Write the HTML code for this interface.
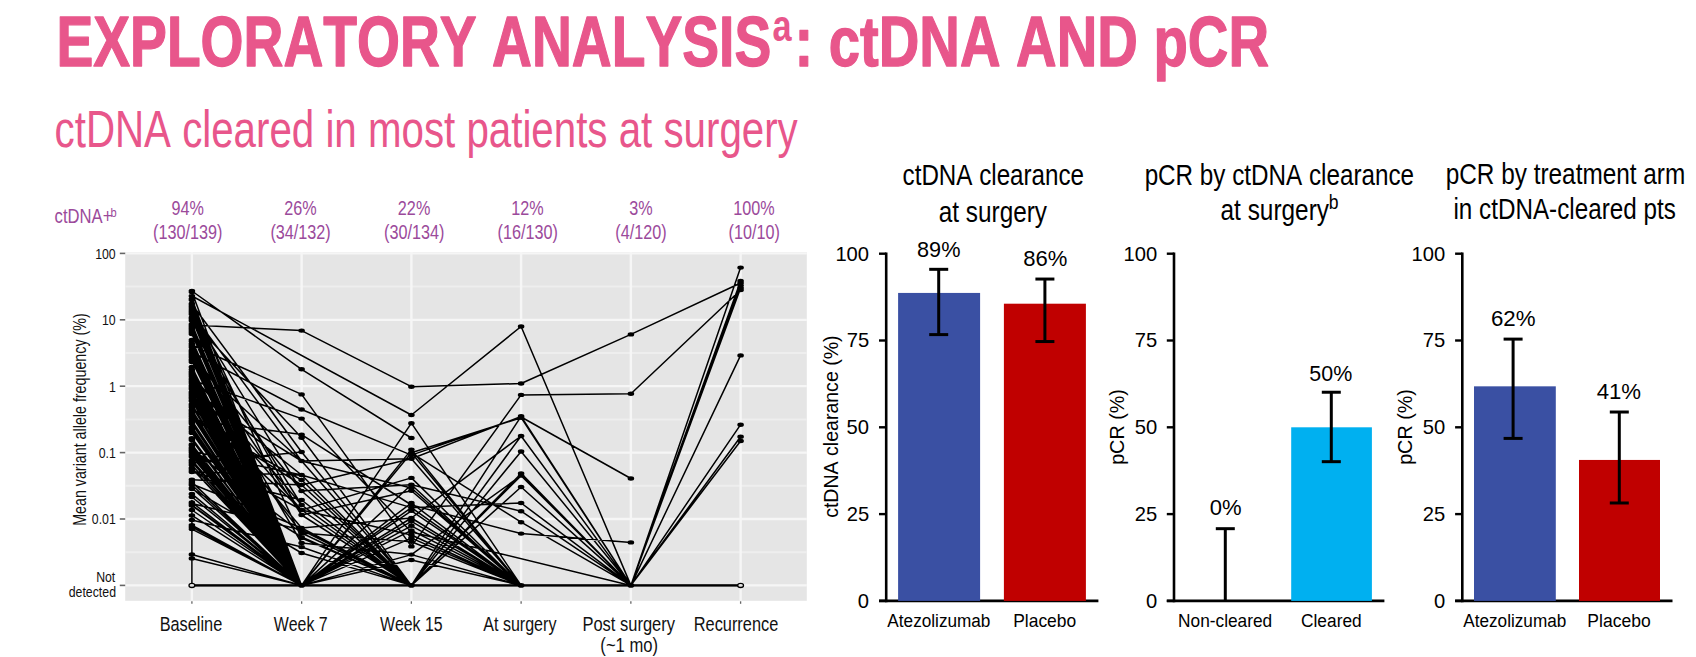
<!DOCTYPE html>
<html><head><meta charset="utf-8">
<style>
html,body{margin:0;padding:0;background:#fff;width:1696px;height:657px;overflow:hidden}
svg{display:block}
text{font-family:"Liberation Sans",sans-serif;font-kerning:none;white-space:pre}
</style></head><body>
<svg width="1696" height="657" viewBox="0 0 1696 657">
<text transform="translate(56.41,66.00) scale(0.7935,1)" font-size="69.6" font-weight="bold" fill="#E8568B" stroke="#E8568B" stroke-width="1.3" stroke-linejoin="round">EXPLORATORY ANALYSIS</text>
<text transform="translate(772.59,41.10) scale(0.7800,1)" font-size="44" font-weight="bold" fill="#E8568B" >a</text>
<text transform="translate(794.39,65.80) scale(0.8078,1)" font-size="69.6" font-weight="bold" fill="#E8568B" stroke="#E8568B" stroke-width="1.3" stroke-linejoin="round">: ctDNA AND pCR</text>
<text transform="translate(54.59,147.20) scale(0.7747,1)" font-size="52" font-weight="normal" fill="#E8568B" >ctDNA cleared in most patients at surgery</text>
<rect x="125.20" y="252.00" width="681.60" height="348.80" fill="#E5E5E5"/>
<line x1="125.20" y1="552.20" x2="806.80" y2="552.20" stroke="#EEEEEE" stroke-width="2.0" />
<line x1="125.20" y1="485.80" x2="806.80" y2="485.80" stroke="#EEEEEE" stroke-width="2.0" />
<line x1="125.20" y1="419.40" x2="806.80" y2="419.40" stroke="#EEEEEE" stroke-width="2.0" />
<line x1="125.20" y1="353.00" x2="806.80" y2="353.00" stroke="#EEEEEE" stroke-width="2.0" />
<line x1="125.20" y1="286.60" x2="806.80" y2="286.60" stroke="#EEEEEE" stroke-width="2.0" />
<line x1="125.20" y1="585.40" x2="806.80" y2="585.40" stroke="#F6F6F6" stroke-width="2.3" />
<line x1="125.20" y1="519.00" x2="806.80" y2="519.00" stroke="#F6F6F6" stroke-width="2.3" />
<line x1="125.20" y1="452.60" x2="806.80" y2="452.60" stroke="#F6F6F6" stroke-width="2.3" />
<line x1="125.20" y1="386.20" x2="806.80" y2="386.20" stroke="#F6F6F6" stroke-width="2.3" />
<line x1="125.20" y1="319.80" x2="806.80" y2="319.80" stroke="#F6F6F6" stroke-width="2.3" />
<line x1="125.20" y1="253.40" x2="806.80" y2="253.40" stroke="#F6F6F6" stroke-width="2.3" />
<line x1="191.90" y1="252.00" x2="191.90" y2="600.80" stroke="#F6F6F6" stroke-width="2.4" />
<line x1="301.64" y1="252.00" x2="301.64" y2="600.80" stroke="#F6F6F6" stroke-width="2.4" />
<line x1="411.38" y1="252.00" x2="411.38" y2="600.80" stroke="#F6F6F6" stroke-width="2.4" />
<line x1="521.12" y1="252.00" x2="521.12" y2="600.80" stroke="#F6F6F6" stroke-width="2.4" />
<line x1="630.86" y1="252.00" x2="630.86" y2="600.80" stroke="#F6F6F6" stroke-width="2.4" />
<line x1="740.60" y1="252.00" x2="740.60" y2="600.80" stroke="#F6F6F6" stroke-width="2.4" />
<line x1="119.80" y1="585.40" x2="125.20" y2="585.40" stroke="#666666" stroke-width="1.6" />
<line x1="119.80" y1="519.00" x2="125.20" y2="519.00" stroke="#666666" stroke-width="1.6" />
<line x1="119.80" y1="452.60" x2="125.20" y2="452.60" stroke="#666666" stroke-width="1.6" />
<line x1="119.80" y1="386.20" x2="125.20" y2="386.20" stroke="#666666" stroke-width="1.6" />
<line x1="119.80" y1="319.80" x2="125.20" y2="319.80" stroke="#666666" stroke-width="1.6" />
<line x1="119.80" y1="253.40" x2="125.20" y2="253.40" stroke="#666666" stroke-width="1.6" />
<line x1="191.90" y1="601.30" x2="191.90" y2="603.80" stroke="#666" stroke-width="1.3" />
<line x1="301.64" y1="601.30" x2="301.64" y2="603.80" stroke="#666" stroke-width="1.3" />
<line x1="411.38" y1="601.30" x2="411.38" y2="603.80" stroke="#666" stroke-width="1.3" />
<line x1="521.12" y1="601.30" x2="521.12" y2="603.80" stroke="#666" stroke-width="1.3" />
<line x1="630.86" y1="601.30" x2="630.86" y2="603.80" stroke="#666" stroke-width="1.3" />
<line x1="740.60" y1="601.30" x2="740.60" y2="603.80" stroke="#666" stroke-width="1.3" />
<path d="M191.9 291.0L301.6 369.3M301.6 369.3L411.4 438.0M191.9 325.0L301.6 330.6M301.6 330.6L411.4 386.7M411.4 386.7L521.1 383.5M521.1 383.5L630.9 334.4M630.9 334.4L740.6 283.0M191.9 296.0L411.4 415.0M411.4 415.0L521.1 326.5M521.1 326.5L630.9 585.4M191.9 345.0L301.6 394.4M301.6 394.4L411.4 546.4M411.4 546.4L521.1 394.9M521.1 394.9L630.9 393.7M630.9 393.7L740.6 290.0M191.9 352.0L301.6 409.5M301.6 409.5L411.4 455.1M411.4 455.1L521.1 417.0M521.1 417.0L630.9 478.5M191.9 380.0L301.6 418.6M301.6 418.6L411.4 532.0M411.4 532.0L630.9 585.4M191.9 420.0L301.6 434.6M301.6 434.6L411.4 505.0M411.4 505.0L521.1 533.6M521.1 533.6L630.9 542.4M191.9 330.0L301.6 585.4M301.6 585.4L411.4 452.8M411.4 452.8L521.1 417.7M521.1 417.7L630.9 585.4M191.9 362.0L301.6 461.0M301.6 461.0L411.4 458.8M411.4 458.8L521.1 416.5M521.1 416.5L630.9 585.4M191.9 318.0L301.6 585.4M301.6 585.4L411.4 423.2M411.4 423.2L521.1 585.4M521.1 585.4L630.9 585.4M191.9 340.0L301.6 585.4M301.6 585.4L411.4 585.4M411.4 585.4L521.1 436.0M521.1 436.0L630.9 585.4M191.9 375.0L301.6 505.0M301.6 505.0L411.4 585.4M411.4 585.4L521.1 475.6M521.1 475.6L630.9 585.4M191.9 300.0L301.6 585.4M301.6 585.4L411.4 585.4M411.4 585.4L521.1 451.5M521.1 451.5L630.9 585.4M191.9 410.0L301.6 585.4M301.6 585.4L411.4 585.4M411.4 585.4L521.1 585.4M521.1 585.4L630.9 585.4M630.9 585.4L740.6 267.6M191.9 440.0L301.6 585.4M301.6 585.4L411.4 585.4M411.4 585.4L521.1 585.4M521.1 585.4L630.9 585.4M630.9 585.4L740.6 281.0M191.9 395.0L301.6 585.4M301.6 585.4L411.4 585.4M411.4 585.4L521.1 585.4M521.1 585.4L630.9 585.4M630.9 585.4L740.6 285.5M191.9 462.0L301.6 585.4M301.6 585.4L411.4 585.4M411.4 585.4L521.1 585.4M521.1 585.4L630.9 585.4M630.9 585.4L740.6 288.0M191.9 360.0L301.6 585.4M301.6 585.4L411.4 585.4M411.4 585.4L521.1 585.4M521.1 585.4L630.9 585.4M630.9 585.4L740.6 355.4M191.9 372.0L301.6 585.4M301.6 585.4L411.4 585.4M411.4 585.4L521.1 585.4M521.1 585.4L630.9 585.4M630.9 585.4L740.6 424.7M191.9 468.0L301.6 585.4M301.6 585.4L411.4 585.4M411.4 585.4L521.1 585.4M521.1 585.4L630.9 585.4M630.9 585.4L740.6 436.8M191.9 505.0L301.6 585.4M301.6 585.4L411.4 585.4M411.4 585.4L521.1 585.4M521.1 585.4L630.9 585.4M630.9 585.4L740.6 441.0M191.9 304.2L301.6 452.0M301.6 452.0L411.4 585.4M411.4 585.4L521.1 416.3M521.1 416.3L630.9 585.4M191.9 444.8L301.6 585.4M301.6 585.4L411.4 518.0M411.4 518.0L521.1 436.0M521.1 436.0L630.9 585.4M191.9 303.7L301.6 538.0M301.6 538.0L411.4 585.4M411.4 585.4L521.1 451.5M521.1 451.5L630.9 585.4M191.9 451.2L301.6 475.0M301.6 475.0L411.4 585.4M411.4 585.4L521.1 473.4M521.1 473.4L630.9 585.4M191.9 389.0L301.6 585.4M301.6 585.4L411.4 554.6M411.4 554.6L521.1 475.6M521.1 475.6L630.9 585.4M191.9 299.8L301.6 585.4M301.6 585.4L411.4 585.4M411.4 585.4L521.1 487.0M521.1 487.0L630.9 585.4M191.9 387.9L301.6 475.0M301.6 475.0L411.4 507.6M411.4 507.6L521.1 503.0M521.1 503.0L630.9 585.4M191.9 354.6L301.6 491.0M301.6 491.0L411.4 484.8M411.4 484.8L521.1 511.2M521.1 511.2L630.9 585.4M191.9 396.0L301.6 585.4M301.6 585.4L411.4 452.8M411.4 452.8L521.1 522.2M521.1 522.2L630.9 585.4M191.9 386.6L301.6 585.4M301.6 585.4L411.4 423.2M411.4 423.2L521.1 585.4M521.1 585.4L630.9 585.4M191.9 374.9L301.6 585.4M301.6 585.4L411.4 449.6M411.4 449.6L521.1 585.4M521.1 585.4L630.9 585.4M191.9 356.4L301.6 585.4M301.6 585.4L411.4 452.8M411.4 452.8L521.1 585.4M521.1 585.4L630.9 585.4M191.9 416.4L301.6 485.0M301.6 485.0L411.4 458.8M411.4 458.8L521.1 585.4M521.1 585.4L630.9 585.4M191.9 385.5L301.6 510.0M301.6 510.0L411.4 477.9M411.4 477.9L521.1 585.4M521.1 585.4L630.9 585.4M191.9 421.8L301.6 585.4M301.6 585.4L411.4 484.8M411.4 484.8L521.1 585.4M521.1 585.4L630.9 585.4M191.9 313.0L301.6 461.0M301.6 461.0L411.4 488.0M411.4 488.0L521.1 585.4M521.1 585.4L630.9 585.4M191.9 319.1L301.6 515.0M301.6 515.0L411.4 490.7M411.4 490.7L521.1 585.4M521.1 585.4L630.9 585.4M191.9 299.0L301.6 585.4M301.6 585.4L411.4 503.0M411.4 503.0L521.1 585.4M521.1 585.4L630.9 585.4M191.9 428.1L301.6 585.4M301.6 585.4L411.4 507.6M411.4 507.6L521.1 585.4M521.1 585.4L630.9 585.4M191.9 447.8L301.6 585.4M301.6 585.4L411.4 510.8M411.4 510.8L521.1 585.4M521.1 585.4L630.9 585.4M191.9 397.8L301.6 528.0M301.6 528.0L411.4 518.0M411.4 518.0L521.1 585.4M521.1 585.4L630.9 585.4M191.9 373.2L301.6 585.4M301.6 585.4L411.4 521.3M411.4 521.3L521.1 585.4M521.1 585.4L630.9 585.4M191.9 460.2L301.6 585.4M301.6 585.4L411.4 525.8M411.4 525.8L521.1 585.4M521.1 585.4L630.9 585.4M191.9 410.2L301.6 585.4M301.6 585.4L411.4 530.4M411.4 530.4L521.1 585.4M521.1 585.4L630.9 585.4M191.9 407.2L301.6 510.0M301.6 510.0L411.4 535.0M411.4 535.0L521.1 585.4M521.1 585.4L630.9 585.4M191.9 438.3L301.6 585.4M301.6 585.4L411.4 538.1M411.4 538.1L521.1 585.4M521.1 585.4L630.9 585.4M191.9 449.9L301.6 533.0M301.6 533.0L411.4 541.8M411.4 541.8L521.1 585.4M521.1 585.4L630.9 585.4M191.9 355.3L301.6 543.0M301.6 543.0L411.4 554.6M411.4 554.6L521.1 585.4M521.1 585.4L630.9 585.4M191.9 379.9L301.6 585.4M301.6 585.4L411.4 560.0M411.4 560.0L521.1 585.4M521.1 585.4L630.9 585.4M191.9 320.5L301.6 437.8M301.6 437.8L411.4 585.4M411.4 585.4L521.1 585.4M521.1 585.4L630.9 585.4M191.9 463.0L301.6 452.0M301.6 452.0L411.4 585.4M411.4 585.4L521.1 585.4M521.1 585.4L630.9 585.4M191.9 393.4L301.6 461.0M301.6 461.0L411.4 585.4M411.4 585.4L521.1 585.4M521.1 585.4L630.9 585.4M191.9 471.8L301.6 475.0M301.6 475.0L411.4 585.4M411.4 585.4L521.1 585.4M521.1 585.4L630.9 585.4M191.9 418.4L301.6 480.0M301.6 480.0L411.4 585.4M411.4 585.4L521.1 585.4M521.1 585.4L630.9 585.4M191.9 479.7L301.6 485.0M301.6 485.0L411.4 585.4M411.4 585.4L521.1 585.4M521.1 585.4L630.9 585.4M191.9 313.3L301.6 491.0M301.6 491.0L411.4 585.4M411.4 585.4L521.1 585.4M521.1 585.4L630.9 585.4M191.9 472.1L301.6 500.0M301.6 500.0L411.4 585.4M411.4 585.4L521.1 585.4M521.1 585.4L630.9 585.4M191.9 328.9L301.6 505.0M301.6 505.0L411.4 585.4M411.4 585.4L521.1 585.4M521.1 585.4L630.9 585.4M191.9 451.0L301.6 510.0M301.6 510.0L411.4 585.4M411.4 585.4L521.1 585.4M521.1 585.4L630.9 585.4M191.9 350.3L301.6 515.0M301.6 515.0L411.4 585.4M411.4 585.4L521.1 585.4M521.1 585.4L630.9 585.4M191.9 484.0L301.6 528.0M301.6 528.0L411.4 585.4M411.4 585.4L521.1 585.4M521.1 585.4L630.9 585.4M191.9 388.9L301.6 533.0M301.6 533.0L411.4 585.4M411.4 585.4L521.1 585.4M521.1 585.4L630.9 585.4M191.9 450.0L301.6 585.4M301.6 585.4L411.4 585.4M411.4 585.4L521.1 585.4M521.1 585.4L630.9 585.4M191.9 404.6L301.6 585.4M301.6 585.4L411.4 585.4M411.4 585.4L521.1 585.4M521.1 585.4L630.9 585.4M191.9 357.3L301.6 585.4M301.6 585.4L411.4 585.4M411.4 585.4L521.1 585.4M521.1 585.4L630.9 585.4M191.9 332.6L301.6 585.4M301.6 585.4L411.4 585.4M411.4 585.4L521.1 585.4M521.1 585.4L630.9 585.4M191.9 306.3L301.6 585.4M301.6 585.4L411.4 585.4M411.4 585.4L521.1 585.4M521.1 585.4L630.9 585.4M191.9 318.8L301.6 585.4M301.6 585.4L411.4 585.4M411.4 585.4L521.1 585.4M521.1 585.4L630.9 585.4M191.9 400.9L301.6 585.4M301.6 585.4L411.4 585.4M411.4 585.4L521.1 585.4M521.1 585.4L630.9 585.4M191.9 292.1L301.6 585.4M301.6 585.4L411.4 585.4M411.4 585.4L521.1 585.4M521.1 585.4L630.9 585.4M191.9 427.0L301.6 585.4M301.6 585.4L411.4 585.4M411.4 585.4L521.1 585.4M521.1 585.4L630.9 585.4M191.9 324.2L301.6 585.4M301.6 585.4L411.4 585.4M411.4 585.4L521.1 585.4M521.1 585.4L630.9 585.4M191.9 341.2L301.6 585.4M301.6 585.4L411.4 585.4M411.4 585.4L521.1 585.4M521.1 585.4L630.9 585.4M191.9 317.8L301.6 585.4M301.6 585.4L411.4 585.4M411.4 585.4L521.1 585.4M521.1 585.4L630.9 585.4M191.9 381.8L301.6 585.4M301.6 585.4L411.4 585.4M411.4 585.4L521.1 585.4M521.1 585.4L630.9 585.4M191.9 393.4L301.6 585.4M301.6 585.4L411.4 585.4M411.4 585.4L521.1 585.4M521.1 585.4L630.9 585.4M191.9 347.2L301.6 585.4M301.6 585.4L411.4 585.4M411.4 585.4L521.1 585.4M521.1 585.4L630.9 585.4M191.9 314.2L301.6 585.4M301.6 585.4L411.4 585.4M411.4 585.4L521.1 585.4M521.1 585.4L630.9 585.4M191.9 431.2L301.6 585.4M301.6 585.4L411.4 585.4M411.4 585.4L521.1 585.4M521.1 585.4L630.9 585.4M191.9 444.7L301.6 585.4M301.6 585.4L411.4 585.4M411.4 585.4L521.1 585.4M521.1 585.4L630.9 585.4M191.9 400.4L301.6 585.4M301.6 585.4L411.4 585.4M411.4 585.4L521.1 585.4M521.1 585.4L630.9 585.4M191.9 413.3L301.6 585.4M301.6 585.4L411.4 585.4M411.4 585.4L521.1 585.4M521.1 585.4L630.9 585.4M191.9 369.5L301.6 585.4M301.6 585.4L411.4 585.4M411.4 585.4L521.1 585.4M521.1 585.4L630.9 585.4M191.9 432.9L301.6 585.4M301.6 585.4L411.4 585.4M411.4 585.4L521.1 585.4M521.1 585.4L630.9 585.4M191.9 444.9L301.6 585.4M301.6 585.4L411.4 585.4M411.4 585.4L521.1 585.4M521.1 585.4L630.9 585.4M191.9 404.3L301.6 585.4M301.6 585.4L411.4 585.4M411.4 585.4L521.1 585.4M521.1 585.4L630.9 585.4M191.9 385.6L301.6 585.4M301.6 585.4L411.4 585.4M411.4 585.4L521.1 585.4M521.1 585.4L630.9 585.4M191.9 360.1L301.6 585.4M301.6 585.4L411.4 585.4M411.4 585.4L521.1 585.4M521.1 585.4L630.9 585.4M191.9 359.5L301.6 585.4M301.6 585.4L411.4 585.4M411.4 585.4L521.1 585.4M521.1 585.4L630.9 585.4M191.9 373.4L301.6 585.4M301.6 585.4L411.4 585.4M411.4 585.4L521.1 585.4M521.1 585.4L630.9 585.4M191.9 360.5L301.6 585.4M301.6 585.4L411.4 585.4M411.4 585.4L521.1 585.4M521.1 585.4L630.9 585.4M191.9 325.7L301.6 585.4M301.6 585.4L411.4 585.4M411.4 585.4L521.1 585.4M521.1 585.4L630.9 585.4M191.9 449.7L301.6 585.4M301.6 585.4L411.4 585.4M411.4 585.4L521.1 585.4M521.1 585.4L630.9 585.4M191.9 367.0L301.6 585.4M301.6 585.4L411.4 585.4M411.4 585.4L521.1 585.4M521.1 585.4L630.9 585.4M191.9 311.3L301.6 585.4M301.6 585.4L411.4 585.4M411.4 585.4L521.1 585.4M521.1 585.4L630.9 585.4M191.9 392.0L301.6 585.4M301.6 585.4L411.4 585.4M411.4 585.4L521.1 585.4M521.1 585.4L630.9 585.4M191.9 310.0L301.6 585.4M301.6 585.4L411.4 585.4M411.4 585.4L521.1 585.4M521.1 585.4L630.9 585.4M191.9 386.8L301.6 585.4M301.6 585.4L411.4 585.4M411.4 585.4L521.1 585.4M521.1 585.4L630.9 585.4M191.9 382.1L301.6 585.4M301.6 585.4L411.4 585.4M411.4 585.4L521.1 585.4M521.1 585.4L630.9 585.4M191.9 444.5L301.6 585.4M301.6 585.4L411.4 585.4M411.4 585.4L521.1 585.4M521.1 585.4L630.9 585.4M191.9 394.0L301.6 585.4M301.6 585.4L411.4 585.4M411.4 585.4L521.1 585.4M521.1 585.4L630.9 585.4M191.9 303.9L301.6 585.4M301.6 585.4L411.4 585.4M411.4 585.4L521.1 585.4M521.1 585.4L630.9 585.4M191.9 328.7L301.6 585.4M301.6 585.4L411.4 585.4M411.4 585.4L521.1 585.4M521.1 585.4L630.9 585.4M191.9 356.6L301.6 585.4M301.6 585.4L411.4 585.4M411.4 585.4L521.1 585.4M521.1 585.4L630.9 585.4M191.9 397.2L301.6 585.4M301.6 585.4L411.4 585.4M411.4 585.4L521.1 585.4M521.1 585.4L630.9 585.4M191.9 445.5L301.6 585.4M301.6 585.4L411.4 585.4M411.4 585.4L521.1 585.4M521.1 585.4L630.9 585.4M191.9 392.3L301.6 585.4M301.6 585.4L411.4 585.4M411.4 585.4L521.1 585.4M521.1 585.4L630.9 585.4M191.9 372.3L301.6 585.4M301.6 585.4L411.4 585.4M411.4 585.4L521.1 585.4M521.1 585.4L630.9 585.4M191.9 312.3L301.6 585.4M301.6 585.4L411.4 585.4M411.4 585.4L521.1 585.4M521.1 585.4L630.9 585.4M191.9 374.5L301.6 585.4M301.6 585.4L411.4 585.4M411.4 585.4L521.1 585.4M521.1 585.4L630.9 585.4M191.9 448.7L301.6 585.4M301.6 585.4L411.4 585.4M411.4 585.4L521.1 585.4M521.1 585.4L630.9 585.4M191.9 373.3L301.6 585.4M301.6 585.4L411.4 585.4M411.4 585.4L521.1 585.4M521.1 585.4L630.9 585.4M191.9 346.1L301.6 585.4M301.6 585.4L411.4 585.4M411.4 585.4L521.1 585.4M521.1 585.4L630.9 585.4M191.9 317.5L301.6 585.4M301.6 585.4L411.4 585.4M411.4 585.4L521.1 585.4M521.1 585.4L630.9 585.4M191.9 414.8L301.6 585.4M301.6 585.4L411.4 585.4M411.4 585.4L521.1 585.4M521.1 585.4L630.9 585.4M191.9 413.4L301.6 585.4M301.6 585.4L411.4 585.4M411.4 585.4L521.1 585.4M521.1 585.4L630.9 585.4M191.9 373.0L301.6 585.4M301.6 585.4L411.4 585.4M411.4 585.4L521.1 585.4M521.1 585.4L630.9 585.4M191.9 406.0L301.6 585.4M301.6 585.4L411.4 585.4M411.4 585.4L521.1 585.4M521.1 585.4L630.9 585.4M191.9 378.9L301.6 585.4M301.6 585.4L411.4 585.4M411.4 585.4L521.1 585.4M521.1 585.4L630.9 585.4M191.9 328.2L301.6 585.4M301.6 585.4L411.4 585.4M411.4 585.4L521.1 585.4M521.1 585.4L630.9 585.4M191.9 444.9L301.6 585.4M301.6 585.4L411.4 585.4M411.4 585.4L521.1 585.4M521.1 585.4L630.9 585.4M191.9 354.3L301.6 585.4M301.6 585.4L411.4 585.4M411.4 585.4L521.1 585.4M521.1 585.4L630.9 585.4M191.9 405.7L301.6 585.4M301.6 585.4L411.4 585.4M411.4 585.4L521.1 585.4M521.1 585.4L630.9 585.4M191.9 439.3L301.6 585.4M301.6 585.4L411.4 585.4M411.4 585.4L521.1 585.4M521.1 585.4L630.9 585.4M191.9 416.0L301.6 585.4M301.6 585.4L411.4 585.4M411.4 585.4L521.1 585.4M521.1 585.4L630.9 585.4M191.9 343.8L301.6 585.4M301.6 585.4L411.4 585.4M411.4 585.4L521.1 585.4M521.1 585.4L630.9 585.4M191.9 398.5L301.6 585.4M301.6 585.4L411.4 585.4M411.4 585.4L521.1 585.4M521.1 585.4L630.9 585.4M191.9 307.9L301.6 585.4M301.6 585.4L411.4 585.4M411.4 585.4L521.1 585.4M521.1 585.4L630.9 585.4M191.9 429.1L301.6 585.4M301.6 585.4L411.4 585.4M411.4 585.4L521.1 585.4M521.1 585.4L630.9 585.4M191.9 379.2L301.6 585.4M301.6 585.4L411.4 585.4M411.4 585.4L521.1 585.4M521.1 585.4L630.9 585.4M191.9 438.5L301.6 585.4M301.6 585.4L411.4 585.4M411.4 585.4L521.1 585.4M521.1 585.4L630.9 585.4M191.9 353.3L301.6 585.4M301.6 585.4L411.4 585.4M411.4 585.4L521.1 585.4M521.1 585.4L630.9 585.4M191.9 331.2L301.6 585.4M301.6 585.4L411.4 585.4M411.4 585.4L521.1 585.4M521.1 585.4L630.9 585.4M191.9 382.9L301.6 585.4M301.6 585.4L411.4 585.4M411.4 585.4L521.1 585.4M521.1 585.4L630.9 585.4M191.9 376.8L301.6 585.4M301.6 585.4L411.4 585.4M411.4 585.4L521.1 585.4M521.1 585.4L630.9 585.4M191.9 397.5L301.6 585.4M301.6 585.4L411.4 585.4M411.4 585.4L521.1 585.4M521.1 585.4L630.9 585.4M191.9 394.0L301.6 585.4M301.6 585.4L411.4 585.4M411.4 585.4L521.1 585.4M521.1 585.4L630.9 585.4M191.9 420.6L301.6 585.4M301.6 585.4L411.4 585.4M411.4 585.4L521.1 585.4M521.1 585.4L630.9 585.4M191.9 416.1L301.6 585.4M301.6 585.4L411.4 585.4M411.4 585.4L521.1 585.4M521.1 585.4L630.9 585.4M191.9 326.5L301.6 585.4M301.6 585.4L411.4 585.4M411.4 585.4L521.1 585.4M521.1 585.4L630.9 585.4M191.9 334.0L301.6 585.4M301.6 585.4L411.4 585.4M411.4 585.4L521.1 585.4M521.1 585.4L630.9 585.4M191.9 360.6L301.6 585.4M301.6 585.4L411.4 585.4M411.4 585.4L521.1 585.4M521.1 585.4L630.9 585.4M191.9 422.8L301.6 585.4M301.6 585.4L411.4 585.4M411.4 585.4L521.1 585.4M521.1 585.4L630.9 585.4M191.9 327.3L301.6 585.4M301.6 585.4L411.4 585.4M411.4 585.4L521.1 585.4M521.1 585.4L630.9 585.4M191.9 375.2L301.6 585.4M301.6 585.4L411.4 585.4M411.4 585.4L521.1 585.4M521.1 585.4L630.9 585.4M191.9 411.9L301.6 585.4M301.6 585.4L411.4 585.4M411.4 585.4L521.1 585.4M521.1 585.4L630.9 585.4M191.9 450.5L301.6 585.4M301.6 585.4L411.4 585.4M411.4 585.4L521.1 585.4M521.1 585.4L630.9 585.4M191.9 420.9L301.6 585.4M301.6 585.4L411.4 585.4M411.4 585.4L521.1 585.4M521.1 585.4L630.9 585.4M191.9 372.0L301.6 585.4M301.6 585.4L411.4 585.4M411.4 585.4L521.1 585.4M521.1 585.4L630.9 585.4M191.9 326.2L301.6 585.4M301.6 585.4L411.4 585.4M411.4 585.4L521.1 585.4M521.1 585.4L630.9 585.4M191.9 392.7L301.6 585.4M301.6 585.4L411.4 585.4M411.4 585.4L521.1 585.4M521.1 585.4L630.9 585.4M191.9 351.4L301.6 585.4M301.6 585.4L411.4 585.4M411.4 585.4L521.1 585.4M521.1 585.4L630.9 585.4M191.9 423.6L301.6 585.4M301.6 585.4L411.4 585.4M411.4 585.4L521.1 585.4M521.1 585.4L630.9 585.4M191.9 410.8L301.6 585.4M301.6 585.4L411.4 585.4M411.4 585.4L521.1 585.4M521.1 585.4L630.9 585.4M191.9 352.3L301.6 585.4M301.6 585.4L411.4 585.4M411.4 585.4L521.1 585.4M521.1 585.4L630.9 585.4M191.9 448.3L301.6 585.4M301.6 585.4L411.4 585.4M411.4 585.4L521.1 585.4M521.1 585.4L630.9 585.4M191.9 305.9L301.6 585.4M301.6 585.4L411.4 585.4M411.4 585.4L521.1 585.4M521.1 585.4L630.9 585.4M191.9 309.9L301.6 585.4M301.6 585.4L411.4 585.4M411.4 585.4L521.1 585.4M521.1 585.4L630.9 585.4M191.9 371.6L301.6 585.4M301.6 585.4L411.4 585.4M411.4 585.4L521.1 585.4M521.1 585.4L630.9 585.4M191.9 350.4L301.6 585.4M301.6 585.4L411.4 585.4M411.4 585.4L521.1 585.4M521.1 585.4L630.9 585.4M191.9 373.6L301.6 585.4M301.6 585.4L411.4 585.4M411.4 585.4L521.1 585.4M521.1 585.4L630.9 585.4M191.9 449.8L301.6 585.4M301.6 585.4L411.4 585.4M411.4 585.4L521.1 585.4M521.1 585.4L630.9 585.4M191.9 503.6L301.6 530.0M301.6 530.0L411.4 585.4M411.4 585.4L521.1 585.4M521.1 585.4L630.9 585.4M191.9 470.1L301.6 537.0M301.6 537.0L411.4 585.4M411.4 585.4L521.1 585.4M521.1 585.4L630.9 585.4M191.9 520.0L301.6 547.0M301.6 547.0L411.4 585.4M411.4 585.4L521.1 585.4M521.1 585.4L630.9 585.4M191.9 488.9L301.6 553.0M301.6 553.0L411.4 585.4M411.4 585.4L521.1 585.4M521.1 585.4L630.9 585.4M191.9 452.8L301.6 585.4M301.6 585.4L411.4 585.4M411.4 585.4L521.1 585.4M521.1 585.4L630.9 585.4M191.9 456.7L301.6 585.4M301.6 585.4L411.4 585.4M411.4 585.4L521.1 585.4M521.1 585.4L630.9 585.4M191.9 460.6L301.6 585.4M301.6 585.4L411.4 585.4M411.4 585.4L521.1 585.4M521.1 585.4L630.9 585.4M191.9 468.4L301.6 585.4M301.6 585.4L411.4 585.4M411.4 585.4L521.1 585.4M521.1 585.4L630.9 585.4M191.9 482.1L301.6 585.4M301.6 585.4L411.4 585.4M411.4 585.4L521.1 585.4M521.1 585.4L630.9 585.4M191.9 488.0L301.6 585.4M301.6 585.4L411.4 585.4M411.4 585.4L521.1 585.4M521.1 585.4L630.9 585.4M191.9 493.9L301.6 585.4M301.6 585.4L411.4 585.4M411.4 585.4L521.1 585.4M521.1 585.4L630.9 585.4M191.9 502.5L301.6 585.4M301.6 585.4L411.4 585.4M411.4 585.4L521.1 585.4M521.1 585.4L630.9 585.4M191.9 505.6L301.6 585.4M301.6 585.4L411.4 585.4M411.4 585.4L521.1 585.4M521.1 585.4L630.9 585.4M191.9 515.4L301.6 585.4M301.6 585.4L411.4 585.4M411.4 585.4L521.1 585.4M521.1 585.4L630.9 585.4M191.9 525.1L301.6 585.4M301.6 585.4L411.4 585.4M411.4 585.4L521.1 585.4M521.1 585.4L630.9 585.4M191.9 529.1L301.6 585.4M301.6 585.4L411.4 585.4M411.4 585.4L521.1 585.4M521.1 585.4L630.9 585.4M191.9 554.5L301.6 585.4M301.6 585.4L411.4 585.4M411.4 585.4L521.1 585.4M521.1 585.4L630.9 585.4M191.9 558.4L301.6 585.4M301.6 585.4L411.4 585.4M411.4 585.4L521.1 585.4M521.1 585.4L630.9 585.4M191.9 455.0L301.6 585.4M301.6 585.4L411.4 585.4M411.4 585.4L521.1 585.4M521.1 585.4L630.9 585.4M191.9 465.0L301.6 585.4M301.6 585.4L411.4 585.4M411.4 585.4L521.1 585.4M521.1 585.4L630.9 585.4M191.9 485.0L301.6 585.4M301.6 585.4L411.4 585.4M411.4 585.4L521.1 585.4M521.1 585.4L630.9 585.4M191.9 497.0L301.6 585.4M301.6 585.4L411.4 585.4M411.4 585.4L521.1 585.4M521.1 585.4L630.9 585.4M191.9 510.0L301.6 585.4M301.6 585.4L411.4 585.4M411.4 585.4L521.1 585.4M521.1 585.4L630.9 585.4M191.9 527.0L301.6 585.4M301.6 585.4L411.4 585.4M411.4 585.4L521.1 585.4M521.1 585.4L630.9 585.4M191.9 585.4L301.6 585.4M301.6 585.4L411.4 585.4M411.4 585.4L521.1 585.4M521.1 585.4L630.9 585.4M191.9 585.4L301.6 585.4M301.6 585.4L411.4 585.4M411.4 585.4L521.1 585.4M521.1 585.4L630.9 585.4M191.9 585.4L301.6 585.4M301.6 585.4L411.4 585.4M411.4 585.4L521.1 585.4M521.1 585.4L630.9 585.4M191.9 585.4L301.6 585.4M301.6 585.4L411.4 585.4M411.4 585.4L521.1 585.4M521.1 585.4L630.9 585.4M191.9 585.4L301.6 585.4M301.6 585.4L411.4 585.4M411.4 585.4L521.1 585.4M521.1 585.4L630.9 585.4M191.9 585.4L301.6 585.4M301.6 585.4L411.4 585.4M411.4 585.4L521.1 585.4M521.1 585.4L630.9 585.4M191.9 585.4L301.6 585.4M301.6 585.4L411.4 585.4M411.4 585.4L521.1 585.4M521.1 585.4L630.9 585.4M630.9 585.4L740.6 585.4M191.9 500L191.9 585.4" stroke="#000" stroke-width="1.5" fill="none"/>
<path d="M191.9 585.4L740.6 585.4" stroke="#000" stroke-width="2.2" fill="none"/>
<path d="M188.6 291.0a3.3 2.2 0 1 0 6.6 0a3.3 2.2 0 1 0 -6.6 0M298.3 369.3a3.3 2.2 0 1 0 6.6 0a3.3 2.2 0 1 0 -6.6 0M408.1 438.0a3.3 2.2 0 1 0 6.6 0a3.3 2.2 0 1 0 -6.6 0M188.6 325.0a3.3 2.2 0 1 0 6.6 0a3.3 2.2 0 1 0 -6.6 0M298.3 330.6a3.3 2.2 0 1 0 6.6 0a3.3 2.2 0 1 0 -6.6 0M408.1 386.7a3.3 2.2 0 1 0 6.6 0a3.3 2.2 0 1 0 -6.6 0M517.8 383.5a3.3 2.2 0 1 0 6.6 0a3.3 2.2 0 1 0 -6.6 0M627.6 334.4a3.3 2.2 0 1 0 6.6 0a3.3 2.2 0 1 0 -6.6 0M737.3 283.0a3.3 2.2 0 1 0 6.6 0a3.3 2.2 0 1 0 -6.6 0M188.6 296.0a3.3 2.2 0 1 0 6.6 0a3.3 2.2 0 1 0 -6.6 0M408.1 415.0a3.3 2.2 0 1 0 6.6 0a3.3 2.2 0 1 0 -6.6 0M517.8 326.5a3.3 2.2 0 1 0 6.6 0a3.3 2.2 0 1 0 -6.6 0M188.6 345.0a3.3 2.2 0 1 0 6.6 0a3.3 2.2 0 1 0 -6.6 0M298.3 394.4a3.3 2.2 0 1 0 6.6 0a3.3 2.2 0 1 0 -6.6 0M408.1 546.4a3.3 2.2 0 1 0 6.6 0a3.3 2.2 0 1 0 -6.6 0M517.8 394.9a3.3 2.2 0 1 0 6.6 0a3.3 2.2 0 1 0 -6.6 0M627.6 393.7a3.3 2.2 0 1 0 6.6 0a3.3 2.2 0 1 0 -6.6 0M737.3 290.0a3.3 2.2 0 1 0 6.6 0a3.3 2.2 0 1 0 -6.6 0M188.6 352.0a3.3 2.2 0 1 0 6.6 0a3.3 2.2 0 1 0 -6.6 0M298.3 409.5a3.3 2.2 0 1 0 6.6 0a3.3 2.2 0 1 0 -6.6 0M408.1 455.1a3.3 2.2 0 1 0 6.6 0a3.3 2.2 0 1 0 -6.6 0M517.8 417.0a3.3 2.2 0 1 0 6.6 0a3.3 2.2 0 1 0 -6.6 0M627.6 478.5a3.3 2.2 0 1 0 6.6 0a3.3 2.2 0 1 0 -6.6 0M188.6 380.0a3.3 2.2 0 1 0 6.6 0a3.3 2.2 0 1 0 -6.6 0M298.3 418.6a3.3 2.2 0 1 0 6.6 0a3.3 2.2 0 1 0 -6.6 0M408.1 532.0a3.3 2.2 0 1 0 6.6 0a3.3 2.2 0 1 0 -6.6 0M188.6 420.0a3.3 2.2 0 1 0 6.6 0a3.3 2.2 0 1 0 -6.6 0M298.3 434.6a3.3 2.2 0 1 0 6.6 0a3.3 2.2 0 1 0 -6.6 0M408.1 505.0a3.3 2.2 0 1 0 6.6 0a3.3 2.2 0 1 0 -6.6 0M517.8 533.6a3.3 2.2 0 1 0 6.6 0a3.3 2.2 0 1 0 -6.6 0M627.6 542.4a3.3 2.2 0 1 0 6.6 0a3.3 2.2 0 1 0 -6.6 0M188.6 330.0a3.3 2.2 0 1 0 6.6 0a3.3 2.2 0 1 0 -6.6 0M408.1 452.8a3.3 2.2 0 1 0 6.6 0a3.3 2.2 0 1 0 -6.6 0M517.8 417.7a3.3 2.2 0 1 0 6.6 0a3.3 2.2 0 1 0 -6.6 0M188.6 362.0a3.3 2.2 0 1 0 6.6 0a3.3 2.2 0 1 0 -6.6 0M298.3 461.0a3.3 2.2 0 1 0 6.6 0a3.3 2.2 0 1 0 -6.6 0M408.1 458.8a3.3 2.2 0 1 0 6.6 0a3.3 2.2 0 1 0 -6.6 0M517.8 416.5a3.3 2.2 0 1 0 6.6 0a3.3 2.2 0 1 0 -6.6 0M188.6 318.0a3.3 2.2 0 1 0 6.6 0a3.3 2.2 0 1 0 -6.6 0M408.1 423.2a3.3 2.2 0 1 0 6.6 0a3.3 2.2 0 1 0 -6.6 0M188.6 340.0a3.3 2.2 0 1 0 6.6 0a3.3 2.2 0 1 0 -6.6 0M517.8 436.0a3.3 2.2 0 1 0 6.6 0a3.3 2.2 0 1 0 -6.6 0M188.6 375.0a3.3 2.2 0 1 0 6.6 0a3.3 2.2 0 1 0 -6.6 0M298.3 505.0a3.3 2.2 0 1 0 6.6 0a3.3 2.2 0 1 0 -6.6 0M517.8 475.6a3.3 2.2 0 1 0 6.6 0a3.3 2.2 0 1 0 -6.6 0M188.6 300.0a3.3 2.2 0 1 0 6.6 0a3.3 2.2 0 1 0 -6.6 0M517.8 451.5a3.3 2.2 0 1 0 6.6 0a3.3 2.2 0 1 0 -6.6 0M188.6 410.0a3.3 2.2 0 1 0 6.6 0a3.3 2.2 0 1 0 -6.6 0M737.3 267.6a3.3 2.2 0 1 0 6.6 0a3.3 2.2 0 1 0 -6.6 0M188.6 440.0a3.3 2.2 0 1 0 6.6 0a3.3 2.2 0 1 0 -6.6 0M737.3 281.0a3.3 2.2 0 1 0 6.6 0a3.3 2.2 0 1 0 -6.6 0M188.6 395.0a3.3 2.2 0 1 0 6.6 0a3.3 2.2 0 1 0 -6.6 0M737.3 285.5a3.3 2.2 0 1 0 6.6 0a3.3 2.2 0 1 0 -6.6 0M188.6 462.0a3.3 2.2 0 1 0 6.6 0a3.3 2.2 0 1 0 -6.6 0M737.3 288.0a3.3 2.2 0 1 0 6.6 0a3.3 2.2 0 1 0 -6.6 0M188.6 360.0a3.3 2.2 0 1 0 6.6 0a3.3 2.2 0 1 0 -6.6 0M737.3 355.4a3.3 2.2 0 1 0 6.6 0a3.3 2.2 0 1 0 -6.6 0M188.6 372.0a3.3 2.2 0 1 0 6.6 0a3.3 2.2 0 1 0 -6.6 0M737.3 424.7a3.3 2.2 0 1 0 6.6 0a3.3 2.2 0 1 0 -6.6 0M188.6 468.0a3.3 2.2 0 1 0 6.6 0a3.3 2.2 0 1 0 -6.6 0M737.3 436.8a3.3 2.2 0 1 0 6.6 0a3.3 2.2 0 1 0 -6.6 0M188.6 505.0a3.3 2.2 0 1 0 6.6 0a3.3 2.2 0 1 0 -6.6 0M737.3 441.0a3.3 2.2 0 1 0 6.6 0a3.3 2.2 0 1 0 -6.6 0M188.6 304.2a3.3 2.2 0 1 0 6.6 0a3.3 2.2 0 1 0 -6.6 0M298.3 452.0a3.3 2.2 0 1 0 6.6 0a3.3 2.2 0 1 0 -6.6 0M517.8 416.3a3.3 2.2 0 1 0 6.6 0a3.3 2.2 0 1 0 -6.6 0M188.6 444.8a3.3 2.2 0 1 0 6.6 0a3.3 2.2 0 1 0 -6.6 0M408.1 518.0a3.3 2.2 0 1 0 6.6 0a3.3 2.2 0 1 0 -6.6 0M517.8 436.0a3.3 2.2 0 1 0 6.6 0a3.3 2.2 0 1 0 -6.6 0M188.6 303.7a3.3 2.2 0 1 0 6.6 0a3.3 2.2 0 1 0 -6.6 0M298.3 538.0a3.3 2.2 0 1 0 6.6 0a3.3 2.2 0 1 0 -6.6 0M517.8 451.5a3.3 2.2 0 1 0 6.6 0a3.3 2.2 0 1 0 -6.6 0M188.6 451.2a3.3 2.2 0 1 0 6.6 0a3.3 2.2 0 1 0 -6.6 0M298.3 475.0a3.3 2.2 0 1 0 6.6 0a3.3 2.2 0 1 0 -6.6 0M517.8 473.4a3.3 2.2 0 1 0 6.6 0a3.3 2.2 0 1 0 -6.6 0M188.6 389.0a3.3 2.2 0 1 0 6.6 0a3.3 2.2 0 1 0 -6.6 0M408.1 554.6a3.3 2.2 0 1 0 6.6 0a3.3 2.2 0 1 0 -6.6 0M517.8 475.6a3.3 2.2 0 1 0 6.6 0a3.3 2.2 0 1 0 -6.6 0M188.6 299.8a3.3 2.2 0 1 0 6.6 0a3.3 2.2 0 1 0 -6.6 0M517.8 487.0a3.3 2.2 0 1 0 6.6 0a3.3 2.2 0 1 0 -6.6 0M188.6 387.9a3.3 2.2 0 1 0 6.6 0a3.3 2.2 0 1 0 -6.6 0M298.3 475.0a3.3 2.2 0 1 0 6.6 0a3.3 2.2 0 1 0 -6.6 0M408.1 507.6a3.3 2.2 0 1 0 6.6 0a3.3 2.2 0 1 0 -6.6 0M517.8 503.0a3.3 2.2 0 1 0 6.6 0a3.3 2.2 0 1 0 -6.6 0M188.6 354.6a3.3 2.2 0 1 0 6.6 0a3.3 2.2 0 1 0 -6.6 0M298.3 491.0a3.3 2.2 0 1 0 6.6 0a3.3 2.2 0 1 0 -6.6 0M408.1 484.8a3.3 2.2 0 1 0 6.6 0a3.3 2.2 0 1 0 -6.6 0M517.8 511.2a3.3 2.2 0 1 0 6.6 0a3.3 2.2 0 1 0 -6.6 0M188.6 396.0a3.3 2.2 0 1 0 6.6 0a3.3 2.2 0 1 0 -6.6 0M408.1 452.8a3.3 2.2 0 1 0 6.6 0a3.3 2.2 0 1 0 -6.6 0M517.8 522.2a3.3 2.2 0 1 0 6.6 0a3.3 2.2 0 1 0 -6.6 0M188.6 386.6a3.3 2.2 0 1 0 6.6 0a3.3 2.2 0 1 0 -6.6 0M408.1 423.2a3.3 2.2 0 1 0 6.6 0a3.3 2.2 0 1 0 -6.6 0M188.6 374.9a3.3 2.2 0 1 0 6.6 0a3.3 2.2 0 1 0 -6.6 0M408.1 449.6a3.3 2.2 0 1 0 6.6 0a3.3 2.2 0 1 0 -6.6 0M188.6 356.4a3.3 2.2 0 1 0 6.6 0a3.3 2.2 0 1 0 -6.6 0M408.1 452.8a3.3 2.2 0 1 0 6.6 0a3.3 2.2 0 1 0 -6.6 0M188.6 416.4a3.3 2.2 0 1 0 6.6 0a3.3 2.2 0 1 0 -6.6 0M298.3 485.0a3.3 2.2 0 1 0 6.6 0a3.3 2.2 0 1 0 -6.6 0M408.1 458.8a3.3 2.2 0 1 0 6.6 0a3.3 2.2 0 1 0 -6.6 0M188.6 385.5a3.3 2.2 0 1 0 6.6 0a3.3 2.2 0 1 0 -6.6 0M298.3 510.0a3.3 2.2 0 1 0 6.6 0a3.3 2.2 0 1 0 -6.6 0M408.1 477.9a3.3 2.2 0 1 0 6.6 0a3.3 2.2 0 1 0 -6.6 0M188.6 421.8a3.3 2.2 0 1 0 6.6 0a3.3 2.2 0 1 0 -6.6 0M408.1 484.8a3.3 2.2 0 1 0 6.6 0a3.3 2.2 0 1 0 -6.6 0M188.6 313.0a3.3 2.2 0 1 0 6.6 0a3.3 2.2 0 1 0 -6.6 0M298.3 461.0a3.3 2.2 0 1 0 6.6 0a3.3 2.2 0 1 0 -6.6 0M408.1 488.0a3.3 2.2 0 1 0 6.6 0a3.3 2.2 0 1 0 -6.6 0M188.6 319.1a3.3 2.2 0 1 0 6.6 0a3.3 2.2 0 1 0 -6.6 0M298.3 515.0a3.3 2.2 0 1 0 6.6 0a3.3 2.2 0 1 0 -6.6 0M408.1 490.7a3.3 2.2 0 1 0 6.6 0a3.3 2.2 0 1 0 -6.6 0M188.6 299.0a3.3 2.2 0 1 0 6.6 0a3.3 2.2 0 1 0 -6.6 0M408.1 503.0a3.3 2.2 0 1 0 6.6 0a3.3 2.2 0 1 0 -6.6 0M188.6 428.1a3.3 2.2 0 1 0 6.6 0a3.3 2.2 0 1 0 -6.6 0M408.1 507.6a3.3 2.2 0 1 0 6.6 0a3.3 2.2 0 1 0 -6.6 0M188.6 447.8a3.3 2.2 0 1 0 6.6 0a3.3 2.2 0 1 0 -6.6 0M408.1 510.8a3.3 2.2 0 1 0 6.6 0a3.3 2.2 0 1 0 -6.6 0M188.6 397.8a3.3 2.2 0 1 0 6.6 0a3.3 2.2 0 1 0 -6.6 0M298.3 528.0a3.3 2.2 0 1 0 6.6 0a3.3 2.2 0 1 0 -6.6 0M408.1 518.0a3.3 2.2 0 1 0 6.6 0a3.3 2.2 0 1 0 -6.6 0M188.6 373.2a3.3 2.2 0 1 0 6.6 0a3.3 2.2 0 1 0 -6.6 0M408.1 521.3a3.3 2.2 0 1 0 6.6 0a3.3 2.2 0 1 0 -6.6 0M188.6 460.2a3.3 2.2 0 1 0 6.6 0a3.3 2.2 0 1 0 -6.6 0M408.1 525.8a3.3 2.2 0 1 0 6.6 0a3.3 2.2 0 1 0 -6.6 0M188.6 410.2a3.3 2.2 0 1 0 6.6 0a3.3 2.2 0 1 0 -6.6 0M408.1 530.4a3.3 2.2 0 1 0 6.6 0a3.3 2.2 0 1 0 -6.6 0M188.6 407.2a3.3 2.2 0 1 0 6.6 0a3.3 2.2 0 1 0 -6.6 0M298.3 510.0a3.3 2.2 0 1 0 6.6 0a3.3 2.2 0 1 0 -6.6 0M408.1 535.0a3.3 2.2 0 1 0 6.6 0a3.3 2.2 0 1 0 -6.6 0M188.6 438.3a3.3 2.2 0 1 0 6.6 0a3.3 2.2 0 1 0 -6.6 0M408.1 538.1a3.3 2.2 0 1 0 6.6 0a3.3 2.2 0 1 0 -6.6 0M188.6 449.9a3.3 2.2 0 1 0 6.6 0a3.3 2.2 0 1 0 -6.6 0M298.3 533.0a3.3 2.2 0 1 0 6.6 0a3.3 2.2 0 1 0 -6.6 0M408.1 541.8a3.3 2.2 0 1 0 6.6 0a3.3 2.2 0 1 0 -6.6 0M188.6 355.3a3.3 2.2 0 1 0 6.6 0a3.3 2.2 0 1 0 -6.6 0M298.3 543.0a3.3 2.2 0 1 0 6.6 0a3.3 2.2 0 1 0 -6.6 0M408.1 554.6a3.3 2.2 0 1 0 6.6 0a3.3 2.2 0 1 0 -6.6 0M188.6 379.9a3.3 2.2 0 1 0 6.6 0a3.3 2.2 0 1 0 -6.6 0M408.1 560.0a3.3 2.2 0 1 0 6.6 0a3.3 2.2 0 1 0 -6.6 0M188.6 320.5a3.3 2.2 0 1 0 6.6 0a3.3 2.2 0 1 0 -6.6 0M298.3 437.8a3.3 2.2 0 1 0 6.6 0a3.3 2.2 0 1 0 -6.6 0M188.6 463.0a3.3 2.2 0 1 0 6.6 0a3.3 2.2 0 1 0 -6.6 0M298.3 452.0a3.3 2.2 0 1 0 6.6 0a3.3 2.2 0 1 0 -6.6 0M188.6 393.4a3.3 2.2 0 1 0 6.6 0a3.3 2.2 0 1 0 -6.6 0M298.3 461.0a3.3 2.2 0 1 0 6.6 0a3.3 2.2 0 1 0 -6.6 0M188.6 471.8a3.3 2.2 0 1 0 6.6 0a3.3 2.2 0 1 0 -6.6 0M298.3 475.0a3.3 2.2 0 1 0 6.6 0a3.3 2.2 0 1 0 -6.6 0M188.6 418.4a3.3 2.2 0 1 0 6.6 0a3.3 2.2 0 1 0 -6.6 0M298.3 480.0a3.3 2.2 0 1 0 6.6 0a3.3 2.2 0 1 0 -6.6 0M188.6 479.7a3.3 2.2 0 1 0 6.6 0a3.3 2.2 0 1 0 -6.6 0M298.3 485.0a3.3 2.2 0 1 0 6.6 0a3.3 2.2 0 1 0 -6.6 0M188.6 313.3a3.3 2.2 0 1 0 6.6 0a3.3 2.2 0 1 0 -6.6 0M298.3 491.0a3.3 2.2 0 1 0 6.6 0a3.3 2.2 0 1 0 -6.6 0M188.6 472.1a3.3 2.2 0 1 0 6.6 0a3.3 2.2 0 1 0 -6.6 0M298.3 500.0a3.3 2.2 0 1 0 6.6 0a3.3 2.2 0 1 0 -6.6 0M188.6 328.9a3.3 2.2 0 1 0 6.6 0a3.3 2.2 0 1 0 -6.6 0M298.3 505.0a3.3 2.2 0 1 0 6.6 0a3.3 2.2 0 1 0 -6.6 0M188.6 451.0a3.3 2.2 0 1 0 6.6 0a3.3 2.2 0 1 0 -6.6 0M298.3 510.0a3.3 2.2 0 1 0 6.6 0a3.3 2.2 0 1 0 -6.6 0M188.6 350.3a3.3 2.2 0 1 0 6.6 0a3.3 2.2 0 1 0 -6.6 0M298.3 515.0a3.3 2.2 0 1 0 6.6 0a3.3 2.2 0 1 0 -6.6 0M188.6 484.0a3.3 2.2 0 1 0 6.6 0a3.3 2.2 0 1 0 -6.6 0M298.3 528.0a3.3 2.2 0 1 0 6.6 0a3.3 2.2 0 1 0 -6.6 0M188.6 388.9a3.3 2.2 0 1 0 6.6 0a3.3 2.2 0 1 0 -6.6 0M298.3 533.0a3.3 2.2 0 1 0 6.6 0a3.3 2.2 0 1 0 -6.6 0M188.6 450.0a3.3 2.2 0 1 0 6.6 0a3.3 2.2 0 1 0 -6.6 0M188.6 404.6a3.3 2.2 0 1 0 6.6 0a3.3 2.2 0 1 0 -6.6 0M188.6 357.3a3.3 2.2 0 1 0 6.6 0a3.3 2.2 0 1 0 -6.6 0M188.6 332.6a3.3 2.2 0 1 0 6.6 0a3.3 2.2 0 1 0 -6.6 0M188.6 306.3a3.3 2.2 0 1 0 6.6 0a3.3 2.2 0 1 0 -6.6 0M188.6 318.8a3.3 2.2 0 1 0 6.6 0a3.3 2.2 0 1 0 -6.6 0M188.6 400.9a3.3 2.2 0 1 0 6.6 0a3.3 2.2 0 1 0 -6.6 0M188.6 292.1a3.3 2.2 0 1 0 6.6 0a3.3 2.2 0 1 0 -6.6 0M188.6 427.0a3.3 2.2 0 1 0 6.6 0a3.3 2.2 0 1 0 -6.6 0M188.6 324.2a3.3 2.2 0 1 0 6.6 0a3.3 2.2 0 1 0 -6.6 0M188.6 341.2a3.3 2.2 0 1 0 6.6 0a3.3 2.2 0 1 0 -6.6 0M188.6 317.8a3.3 2.2 0 1 0 6.6 0a3.3 2.2 0 1 0 -6.6 0M188.6 381.8a3.3 2.2 0 1 0 6.6 0a3.3 2.2 0 1 0 -6.6 0M188.6 393.4a3.3 2.2 0 1 0 6.6 0a3.3 2.2 0 1 0 -6.6 0M188.6 347.2a3.3 2.2 0 1 0 6.6 0a3.3 2.2 0 1 0 -6.6 0M188.6 314.2a3.3 2.2 0 1 0 6.6 0a3.3 2.2 0 1 0 -6.6 0M188.6 431.2a3.3 2.2 0 1 0 6.6 0a3.3 2.2 0 1 0 -6.6 0M188.6 444.7a3.3 2.2 0 1 0 6.6 0a3.3 2.2 0 1 0 -6.6 0M188.6 400.4a3.3 2.2 0 1 0 6.6 0a3.3 2.2 0 1 0 -6.6 0M188.6 413.3a3.3 2.2 0 1 0 6.6 0a3.3 2.2 0 1 0 -6.6 0M188.6 369.5a3.3 2.2 0 1 0 6.6 0a3.3 2.2 0 1 0 -6.6 0M188.6 432.9a3.3 2.2 0 1 0 6.6 0a3.3 2.2 0 1 0 -6.6 0M188.6 444.9a3.3 2.2 0 1 0 6.6 0a3.3 2.2 0 1 0 -6.6 0M188.6 404.3a3.3 2.2 0 1 0 6.6 0a3.3 2.2 0 1 0 -6.6 0M188.6 385.6a3.3 2.2 0 1 0 6.6 0a3.3 2.2 0 1 0 -6.6 0M188.6 360.1a3.3 2.2 0 1 0 6.6 0a3.3 2.2 0 1 0 -6.6 0M188.6 359.5a3.3 2.2 0 1 0 6.6 0a3.3 2.2 0 1 0 -6.6 0M188.6 373.4a3.3 2.2 0 1 0 6.6 0a3.3 2.2 0 1 0 -6.6 0M188.6 360.5a3.3 2.2 0 1 0 6.6 0a3.3 2.2 0 1 0 -6.6 0M188.6 325.7a3.3 2.2 0 1 0 6.6 0a3.3 2.2 0 1 0 -6.6 0M188.6 449.7a3.3 2.2 0 1 0 6.6 0a3.3 2.2 0 1 0 -6.6 0M188.6 367.0a3.3 2.2 0 1 0 6.6 0a3.3 2.2 0 1 0 -6.6 0M188.6 311.3a3.3 2.2 0 1 0 6.6 0a3.3 2.2 0 1 0 -6.6 0M188.6 392.0a3.3 2.2 0 1 0 6.6 0a3.3 2.2 0 1 0 -6.6 0M188.6 310.0a3.3 2.2 0 1 0 6.6 0a3.3 2.2 0 1 0 -6.6 0M188.6 386.8a3.3 2.2 0 1 0 6.6 0a3.3 2.2 0 1 0 -6.6 0M188.6 382.1a3.3 2.2 0 1 0 6.6 0a3.3 2.2 0 1 0 -6.6 0M188.6 444.5a3.3 2.2 0 1 0 6.6 0a3.3 2.2 0 1 0 -6.6 0M188.6 394.0a3.3 2.2 0 1 0 6.6 0a3.3 2.2 0 1 0 -6.6 0M188.6 303.9a3.3 2.2 0 1 0 6.6 0a3.3 2.2 0 1 0 -6.6 0M188.6 328.7a3.3 2.2 0 1 0 6.6 0a3.3 2.2 0 1 0 -6.6 0M188.6 356.6a3.3 2.2 0 1 0 6.6 0a3.3 2.2 0 1 0 -6.6 0M188.6 397.2a3.3 2.2 0 1 0 6.6 0a3.3 2.2 0 1 0 -6.6 0M188.6 445.5a3.3 2.2 0 1 0 6.6 0a3.3 2.2 0 1 0 -6.6 0M188.6 392.3a3.3 2.2 0 1 0 6.6 0a3.3 2.2 0 1 0 -6.6 0M188.6 372.3a3.3 2.2 0 1 0 6.6 0a3.3 2.2 0 1 0 -6.6 0M188.6 312.3a3.3 2.2 0 1 0 6.6 0a3.3 2.2 0 1 0 -6.6 0M188.6 374.5a3.3 2.2 0 1 0 6.6 0a3.3 2.2 0 1 0 -6.6 0M188.6 448.7a3.3 2.2 0 1 0 6.6 0a3.3 2.2 0 1 0 -6.6 0M188.6 373.3a3.3 2.2 0 1 0 6.6 0a3.3 2.2 0 1 0 -6.6 0M188.6 346.1a3.3 2.2 0 1 0 6.6 0a3.3 2.2 0 1 0 -6.6 0M188.6 317.5a3.3 2.2 0 1 0 6.6 0a3.3 2.2 0 1 0 -6.6 0M188.6 414.8a3.3 2.2 0 1 0 6.6 0a3.3 2.2 0 1 0 -6.6 0M188.6 413.4a3.3 2.2 0 1 0 6.6 0a3.3 2.2 0 1 0 -6.6 0M188.6 373.0a3.3 2.2 0 1 0 6.6 0a3.3 2.2 0 1 0 -6.6 0M188.6 406.0a3.3 2.2 0 1 0 6.6 0a3.3 2.2 0 1 0 -6.6 0M188.6 378.9a3.3 2.2 0 1 0 6.6 0a3.3 2.2 0 1 0 -6.6 0M188.6 328.2a3.3 2.2 0 1 0 6.6 0a3.3 2.2 0 1 0 -6.6 0M188.6 444.9a3.3 2.2 0 1 0 6.6 0a3.3 2.2 0 1 0 -6.6 0M188.6 354.3a3.3 2.2 0 1 0 6.6 0a3.3 2.2 0 1 0 -6.6 0M188.6 405.7a3.3 2.2 0 1 0 6.6 0a3.3 2.2 0 1 0 -6.6 0M188.6 439.3a3.3 2.2 0 1 0 6.6 0a3.3 2.2 0 1 0 -6.6 0M188.6 416.0a3.3 2.2 0 1 0 6.6 0a3.3 2.2 0 1 0 -6.6 0M188.6 343.8a3.3 2.2 0 1 0 6.6 0a3.3 2.2 0 1 0 -6.6 0M188.6 398.5a3.3 2.2 0 1 0 6.6 0a3.3 2.2 0 1 0 -6.6 0M188.6 307.9a3.3 2.2 0 1 0 6.6 0a3.3 2.2 0 1 0 -6.6 0M188.6 429.1a3.3 2.2 0 1 0 6.6 0a3.3 2.2 0 1 0 -6.6 0M188.6 379.2a3.3 2.2 0 1 0 6.6 0a3.3 2.2 0 1 0 -6.6 0M188.6 438.5a3.3 2.2 0 1 0 6.6 0a3.3 2.2 0 1 0 -6.6 0M188.6 353.3a3.3 2.2 0 1 0 6.6 0a3.3 2.2 0 1 0 -6.6 0M188.6 331.2a3.3 2.2 0 1 0 6.6 0a3.3 2.2 0 1 0 -6.6 0M188.6 382.9a3.3 2.2 0 1 0 6.6 0a3.3 2.2 0 1 0 -6.6 0M188.6 376.8a3.3 2.2 0 1 0 6.6 0a3.3 2.2 0 1 0 -6.6 0M188.6 397.5a3.3 2.2 0 1 0 6.6 0a3.3 2.2 0 1 0 -6.6 0M188.6 394.0a3.3 2.2 0 1 0 6.6 0a3.3 2.2 0 1 0 -6.6 0M188.6 420.6a3.3 2.2 0 1 0 6.6 0a3.3 2.2 0 1 0 -6.6 0M188.6 416.1a3.3 2.2 0 1 0 6.6 0a3.3 2.2 0 1 0 -6.6 0M188.6 326.5a3.3 2.2 0 1 0 6.6 0a3.3 2.2 0 1 0 -6.6 0M188.6 334.0a3.3 2.2 0 1 0 6.6 0a3.3 2.2 0 1 0 -6.6 0M188.6 360.6a3.3 2.2 0 1 0 6.6 0a3.3 2.2 0 1 0 -6.6 0M188.6 422.8a3.3 2.2 0 1 0 6.6 0a3.3 2.2 0 1 0 -6.6 0M188.6 327.3a3.3 2.2 0 1 0 6.6 0a3.3 2.2 0 1 0 -6.6 0M188.6 375.2a3.3 2.2 0 1 0 6.6 0a3.3 2.2 0 1 0 -6.6 0M188.6 411.9a3.3 2.2 0 1 0 6.6 0a3.3 2.2 0 1 0 -6.6 0M188.6 450.5a3.3 2.2 0 1 0 6.6 0a3.3 2.2 0 1 0 -6.6 0M188.6 420.9a3.3 2.2 0 1 0 6.6 0a3.3 2.2 0 1 0 -6.6 0M188.6 372.0a3.3 2.2 0 1 0 6.6 0a3.3 2.2 0 1 0 -6.6 0M188.6 326.2a3.3 2.2 0 1 0 6.6 0a3.3 2.2 0 1 0 -6.6 0M188.6 392.7a3.3 2.2 0 1 0 6.6 0a3.3 2.2 0 1 0 -6.6 0M188.6 351.4a3.3 2.2 0 1 0 6.6 0a3.3 2.2 0 1 0 -6.6 0M188.6 423.6a3.3 2.2 0 1 0 6.6 0a3.3 2.2 0 1 0 -6.6 0M188.6 410.8a3.3 2.2 0 1 0 6.6 0a3.3 2.2 0 1 0 -6.6 0M188.6 352.3a3.3 2.2 0 1 0 6.6 0a3.3 2.2 0 1 0 -6.6 0M188.6 448.3a3.3 2.2 0 1 0 6.6 0a3.3 2.2 0 1 0 -6.6 0M188.6 305.9a3.3 2.2 0 1 0 6.6 0a3.3 2.2 0 1 0 -6.6 0M188.6 309.9a3.3 2.2 0 1 0 6.6 0a3.3 2.2 0 1 0 -6.6 0M188.6 371.6a3.3 2.2 0 1 0 6.6 0a3.3 2.2 0 1 0 -6.6 0M188.6 350.4a3.3 2.2 0 1 0 6.6 0a3.3 2.2 0 1 0 -6.6 0M188.6 373.6a3.3 2.2 0 1 0 6.6 0a3.3 2.2 0 1 0 -6.6 0M188.6 449.8a3.3 2.2 0 1 0 6.6 0a3.3 2.2 0 1 0 -6.6 0M188.6 503.6a3.3 2.2 0 1 0 6.6 0a3.3 2.2 0 1 0 -6.6 0M298.3 530.0a3.3 2.2 0 1 0 6.6 0a3.3 2.2 0 1 0 -6.6 0M188.6 470.1a3.3 2.2 0 1 0 6.6 0a3.3 2.2 0 1 0 -6.6 0M298.3 537.0a3.3 2.2 0 1 0 6.6 0a3.3 2.2 0 1 0 -6.6 0M188.6 520.0a3.3 2.2 0 1 0 6.6 0a3.3 2.2 0 1 0 -6.6 0M298.3 547.0a3.3 2.2 0 1 0 6.6 0a3.3 2.2 0 1 0 -6.6 0M188.6 488.9a3.3 2.2 0 1 0 6.6 0a3.3 2.2 0 1 0 -6.6 0M298.3 553.0a3.3 2.2 0 1 0 6.6 0a3.3 2.2 0 1 0 -6.6 0M188.6 452.8a3.3 2.2 0 1 0 6.6 0a3.3 2.2 0 1 0 -6.6 0M188.6 456.7a3.3 2.2 0 1 0 6.6 0a3.3 2.2 0 1 0 -6.6 0M188.6 460.6a3.3 2.2 0 1 0 6.6 0a3.3 2.2 0 1 0 -6.6 0M188.6 468.4a3.3 2.2 0 1 0 6.6 0a3.3 2.2 0 1 0 -6.6 0M188.6 482.1a3.3 2.2 0 1 0 6.6 0a3.3 2.2 0 1 0 -6.6 0M188.6 488.0a3.3 2.2 0 1 0 6.6 0a3.3 2.2 0 1 0 -6.6 0M188.6 493.9a3.3 2.2 0 1 0 6.6 0a3.3 2.2 0 1 0 -6.6 0M188.6 502.5a3.3 2.2 0 1 0 6.6 0a3.3 2.2 0 1 0 -6.6 0M188.6 505.6a3.3 2.2 0 1 0 6.6 0a3.3 2.2 0 1 0 -6.6 0M188.6 515.4a3.3 2.2 0 1 0 6.6 0a3.3 2.2 0 1 0 -6.6 0M188.6 525.1a3.3 2.2 0 1 0 6.6 0a3.3 2.2 0 1 0 -6.6 0M188.6 529.1a3.3 2.2 0 1 0 6.6 0a3.3 2.2 0 1 0 -6.6 0M188.6 554.5a3.3 2.2 0 1 0 6.6 0a3.3 2.2 0 1 0 -6.6 0M188.6 558.4a3.3 2.2 0 1 0 6.6 0a3.3 2.2 0 1 0 -6.6 0M188.6 455.0a3.3 2.2 0 1 0 6.6 0a3.3 2.2 0 1 0 -6.6 0M188.6 465.0a3.3 2.2 0 1 0 6.6 0a3.3 2.2 0 1 0 -6.6 0M188.6 485.0a3.3 2.2 0 1 0 6.6 0a3.3 2.2 0 1 0 -6.6 0M188.6 497.0a3.3 2.2 0 1 0 6.6 0a3.3 2.2 0 1 0 -6.6 0M188.6 510.0a3.3 2.2 0 1 0 6.6 0a3.3 2.2 0 1 0 -6.6 0M188.6 527.0a3.3 2.2 0 1 0 6.6 0a3.3 2.2 0 1 0 -6.6 0" fill="#000"/>
<ellipse cx="191.9" cy="585.4" rx="2.9" ry="2.1" fill="#E5E5E5" stroke="#000" stroke-width="1.3"/>
<ellipse cx="301.6" cy="585.4" rx="3.4" ry="2.3" fill="#000"/>
<ellipse cx="411.4" cy="585.4" rx="3.4" ry="2.3" fill="#000"/>
<ellipse cx="521.1" cy="585.4" rx="3.4" ry="2.3" fill="#000"/>
<ellipse cx="630.9" cy="585.4" rx="3.4" ry="2.3" fill="#000"/>
<ellipse cx="740.6" cy="585.4" rx="2.9" ry="2.1" fill="#E5E5E5" stroke="#000" stroke-width="1.3"/>
<text transform="translate(95.14,258.70) scale(0.8100,1)" font-size="15.2" font-weight="normal" fill="#111" >100</text>
<text transform="translate(101.99,325.10) scale(0.8100,1)" font-size="15.2" font-weight="normal" fill="#111" >10</text>
<text transform="translate(108.95,391.50) scale(0.8100,1)" font-size="15.2" font-weight="normal" fill="#111" >1</text>
<text transform="translate(98.69,457.90) scale(0.8100,1)" font-size="15.2" font-weight="normal" fill="#111" >0.1</text>
<text transform="translate(91.84,524.30) scale(0.8100,1)" font-size="15.2" font-weight="normal" fill="#111" >0.01</text>
<text transform="translate(96.13,582.00) scale(0.8100,1)" font-size="15.2" font-weight="normal" fill="#111" >Not</text>
<text transform="translate(68.76,596.60) scale(0.8100,1)" font-size="15.2" font-weight="normal" fill="#111" >detected</text>
<text transform="translate(159.66,631.00) scale(0.7969,1)" font-size="20.5" font-weight="normal" fill="#111" >Baseline</text>
<text transform="translate(273.73,631.00) scale(0.7766,1)" font-size="20.5" font-weight="normal" fill="#111" >Week 7</text>
<text transform="translate(379.93,631.00) scale(0.7743,1)" font-size="20.5" font-weight="normal" fill="#111" >Week 15</text>
<text transform="translate(483.27,631.00) scale(0.7831,1)" font-size="20.5" font-weight="normal" fill="#111" >At surgery</text>
<text transform="translate(582.45,631.00) scale(0.8046,1)" font-size="20.5" font-weight="normal" fill="#111" >Post surgery</text>
<text transform="translate(693.76,631.00) scale(0.7981,1)" font-size="20.5" font-weight="normal" fill="#111" >Recurrence</text>
<text transform="translate(600.37,652.20) scale(0.8098,1)" font-size="20.5" font-weight="normal" fill="#111" >(~1 mo)</text>
<g transform="translate(86.2,524.7) rotate(-90)">
<text transform="translate(-1.17,0) scale(0.7720,1)" font-size="18.5" fill="#111">Mean variant allele frequency (%)</text>
</g>
<text transform="translate(54.59,222.80) scale(0.8122,1)" font-size="20.5" font-weight="normal" fill="#9B4A9B" >ctDNA+</text>
<text transform="translate(110.48,217.10) scale(0.8553,1)" font-size="13" font-weight="normal" fill="#9B4A9B" >b</text>
<text transform="translate(171.40,215.20) scale(0.7900,1)" font-size="20.5" font-weight="normal" fill="#9B4A9B" >94%</text>
<text transform="translate(153.04,239.00) scale(0.7900,1)" font-size="20.5" font-weight="normal" fill="#9B4A9B" >(130/139)</text>
<text transform="translate(284.27,215.20) scale(0.7900,1)" font-size="20.5" font-weight="normal" fill="#9B4A9B" >26%</text>
<text transform="translate(270.44,239.00) scale(0.7900,1)" font-size="20.5" font-weight="normal" fill="#9B4A9B" >(34/132)</text>
<text transform="translate(397.87,215.20) scale(0.7900,1)" font-size="20.5" font-weight="normal" fill="#9B4A9B" >22%</text>
<text transform="translate(384.04,239.00) scale(0.7900,1)" font-size="20.5" font-weight="normal" fill="#9B4A9B" >(30/134)</text>
<text transform="translate(511.16,215.20) scale(0.7900,1)" font-size="20.5" font-weight="normal" fill="#9B4A9B" >12%</text>
<text transform="translate(497.54,239.00) scale(0.7900,1)" font-size="20.5" font-weight="normal" fill="#9B4A9B" >(16/130)</text>
<text transform="translate(629.28,215.20) scale(0.7900,1)" font-size="20.5" font-weight="normal" fill="#9B4A9B" >3%</text>
<text transform="translate(615.34,239.00) scale(0.7900,1)" font-size="20.5" font-weight="normal" fill="#9B4A9B" >(4/120)</text>
<text transform="translate(733.16,215.20) scale(0.7900,1)" font-size="20.5" font-weight="normal" fill="#9B4A9B" >100%</text>
<text transform="translate(728.54,239.00) scale(0.7900,1)" font-size="20.5" font-weight="normal" fill="#9B4A9B" >(10/10)</text>
<line x1="886.20" y1="252.50" x2="886.20" y2="602.20" stroke="#000" stroke-width="2.6" />
<line x1="879.00" y1="600.90" x2="886.20" y2="600.90" stroke="#000" stroke-width="2.4" />
<line x1="879.00" y1="514.10" x2="886.20" y2="514.10" stroke="#000" stroke-width="2.4" />
<line x1="879.00" y1="427.30" x2="886.20" y2="427.30" stroke="#000" stroke-width="2.4" />
<line x1="879.00" y1="340.50" x2="886.20" y2="340.50" stroke="#000" stroke-width="2.4" />
<line x1="879.00" y1="253.70" x2="886.20" y2="253.70" stroke="#000" stroke-width="2.4" />
<line x1="879.00" y1="600.90" x2="1098.40" y2="600.90" stroke="#000" stroke-width="2.6" />
<rect x="898.10" y="292.93" width="82.00" height="307.97" fill="#3A50A3"/>
<rect x="1003.90" y="303.70" width="82.00" height="297.20" fill="#C00000"/>
<line x1="938.70" y1="269.32" x2="938.70" y2="334.60" stroke="#000" stroke-width="3.0" />
<line x1="929.20" y1="269.32" x2="948.20" y2="269.32" stroke="#000" stroke-width="3.0" />
<line x1="929.20" y1="334.60" x2="948.20" y2="334.60" stroke="#000" stroke-width="3.0" />
<line x1="1044.90" y1="279.05" x2="1044.90" y2="341.54" stroke="#000" stroke-width="3.0" />
<line x1="1035.40" y1="279.05" x2="1054.40" y2="279.05" stroke="#000" stroke-width="3.0" />
<line x1="1035.40" y1="341.54" x2="1054.40" y2="341.54" stroke="#000" stroke-width="3.0" />
<line x1="1174.00" y1="252.50" x2="1174.00" y2="602.20" stroke="#000" stroke-width="2.6" />
<line x1="1166.80" y1="600.90" x2="1174.00" y2="600.90" stroke="#000" stroke-width="2.4" />
<line x1="1166.80" y1="514.10" x2="1174.00" y2="514.10" stroke="#000" stroke-width="2.4" />
<line x1="1166.80" y1="427.30" x2="1174.00" y2="427.30" stroke="#000" stroke-width="2.4" />
<line x1="1166.80" y1="340.50" x2="1174.00" y2="340.50" stroke="#000" stroke-width="2.4" />
<line x1="1166.80" y1="253.70" x2="1174.00" y2="253.70" stroke="#000" stroke-width="2.4" />
<line x1="1166.80" y1="600.90" x2="1384.40" y2="600.90" stroke="#000" stroke-width="2.6" />
<rect x="1291.20" y="427.30" width="80.70" height="173.60" fill="#00B0F0"/>
<line x1="1225.30" y1="528.68" x2="1225.30" y2="600.90" stroke="#000" stroke-width="3.0" />
<line x1="1215.80" y1="528.68" x2="1234.80" y2="528.68" stroke="#000" stroke-width="3.0" />
<line x1="1331.30" y1="392.23" x2="1331.30" y2="461.67" stroke="#000" stroke-width="3.0" />
<line x1="1321.80" y1="392.23" x2="1340.80" y2="392.23" stroke="#000" stroke-width="3.0" />
<line x1="1321.80" y1="461.67" x2="1340.80" y2="461.67" stroke="#000" stroke-width="3.0" />
<line x1="1462.30" y1="252.50" x2="1462.30" y2="602.20" stroke="#000" stroke-width="2.6" />
<line x1="1455.10" y1="600.90" x2="1462.30" y2="600.90" stroke="#000" stroke-width="2.4" />
<line x1="1455.10" y1="514.10" x2="1462.30" y2="514.10" stroke="#000" stroke-width="2.4" />
<line x1="1455.10" y1="427.30" x2="1462.30" y2="427.30" stroke="#000" stroke-width="2.4" />
<line x1="1455.10" y1="340.50" x2="1462.30" y2="340.50" stroke="#000" stroke-width="2.4" />
<line x1="1455.10" y1="253.70" x2="1462.30" y2="253.70" stroke="#000" stroke-width="2.4" />
<line x1="1455.10" y1="600.90" x2="1672.50" y2="600.90" stroke="#000" stroke-width="2.6" />
<rect x="1474.00" y="386.33" width="81.80" height="214.57" fill="#3A50A3"/>
<rect x="1579.00" y="459.94" width="81.00" height="140.96" fill="#C00000"/>
<line x1="1513.10" y1="339.11" x2="1513.10" y2="438.41" stroke="#000" stroke-width="3.0" />
<line x1="1503.60" y1="339.11" x2="1522.60" y2="339.11" stroke="#000" stroke-width="3.0" />
<line x1="1503.60" y1="438.41" x2="1522.60" y2="438.41" stroke="#000" stroke-width="3.0" />
<line x1="1619.30" y1="412.02" x2="1619.30" y2="502.99" stroke="#000" stroke-width="3.0" />
<line x1="1609.80" y1="412.02" x2="1628.80" y2="412.02" stroke="#000" stroke-width="3.0" />
<line x1="1609.80" y1="502.99" x2="1628.80" y2="502.99" stroke="#000" stroke-width="3.0" />
<text transform="translate(835.39,260.55) scale(1.0200,1)" font-size="19.8" font-weight="normal" fill="#000" >100</text>
<text transform="translate(846.68,347.35) scale(1.0200,1)" font-size="19.8" font-weight="normal" fill="#000" >75</text>
<text transform="translate(846.62,434.15) scale(1.0200,1)" font-size="19.8" font-weight="normal" fill="#000" >50</text>
<text transform="translate(846.68,520.95) scale(1.0200,1)" font-size="19.8" font-weight="normal" fill="#000" >25</text>
<text transform="translate(857.86,607.75) scale(1.0200,1)" font-size="19.8" font-weight="normal" fill="#000" >0</text>
<text transform="translate(1123.49,260.55) scale(1.0200,1)" font-size="19.8" font-weight="normal" fill="#000" >100</text>
<text transform="translate(1134.78,347.35) scale(1.0200,1)" font-size="19.8" font-weight="normal" fill="#000" >75</text>
<text transform="translate(1134.72,434.15) scale(1.0200,1)" font-size="19.8" font-weight="normal" fill="#000" >50</text>
<text transform="translate(1134.78,520.95) scale(1.0200,1)" font-size="19.8" font-weight="normal" fill="#000" >25</text>
<text transform="translate(1145.96,607.75) scale(1.0200,1)" font-size="19.8" font-weight="normal" fill="#000" >0</text>
<text transform="translate(1411.49,260.55) scale(1.0200,1)" font-size="19.8" font-weight="normal" fill="#000" >100</text>
<text transform="translate(1422.78,347.35) scale(1.0200,1)" font-size="19.8" font-weight="normal" fill="#000" >75</text>
<text transform="translate(1422.72,434.15) scale(1.0200,1)" font-size="19.8" font-weight="normal" fill="#000" >50</text>
<text transform="translate(1422.78,520.95) scale(1.0200,1)" font-size="19.8" font-weight="normal" fill="#000" >25</text>
<text transform="translate(1433.96,607.75) scale(1.0200,1)" font-size="19.8" font-weight="normal" fill="#000" >0</text>
<text transform="translate(917.06,257.00) scale(0.9905,1)" font-size="21.9" font-weight="normal" fill="#000" >89%</text>
<text transform="translate(1023.34,266.30) scale(1.0071,1)" font-size="21.9" font-weight="normal" fill="#000" >86%</text>
<text transform="translate(1209.64,515.00) scale(1.0061,1)" font-size="21.9" font-weight="normal" fill="#000" >0%</text>
<text transform="translate(1309.34,381.10) scale(0.9793,1)" font-size="21.9" font-weight="normal" fill="#000" >50%</text>
<text transform="translate(1490.97,326.30) scale(1.0181,1)" font-size="21.9" font-weight="normal" fill="#000" >62%</text>
<text transform="translate(1596.69,399.20) scale(1.0130,1)" font-size="21.9" font-weight="normal" fill="#000" >41%</text>
<text transform="translate(887.37,626.90) scale(0.9764,1)" font-size="17.6" font-weight="normal" fill="#000" >Atezolizumab</text>
<text transform="translate(1013.17,626.90) scale(0.9915,1)" font-size="17.6" font-weight="normal" fill="#000" >Placebo</text>
<text transform="translate(1178.08,626.90) scale(0.9818,1)" font-size="17.6" font-weight="normal" fill="#000" >Non-cleared</text>
<text transform="translate(1301.02,626.90) scale(0.9848,1)" font-size="17.6" font-weight="normal" fill="#000" >Cleared</text>
<text transform="translate(1463.27,626.90) scale(0.9754,1)" font-size="17.6" font-weight="normal" fill="#000" >Atezolizumab</text>
<text transform="translate(1587.36,626.90) scale(0.9964,1)" font-size="17.6" font-weight="normal" fill="#000" >Placebo</text>
<text transform="translate(902.57,184.90) scale(0.8064,1)" font-size="30" font-weight="normal" fill="#000" >ctDNA clearance</text>
<text transform="translate(938.77,221.60) scale(0.8118,1)" font-size="30" font-weight="normal" fill="#000" >at surgery</text>
<text transform="translate(1144.64,184.70) scale(0.8080,1)" font-size="30" font-weight="normal" fill="#000" >pCR by ctDNA clearance</text>
<text transform="translate(1220.56,219.90) scale(0.8133,1)" font-size="30" font-weight="normal" fill="#000" >at surgery</text>
<text transform="translate(1328.77,209.20) scale(0.9009,1)" font-size="19.5" font-weight="normal" fill="#000" >b</text>
<text transform="translate(1445.73,183.70) scale(0.8122,1)" font-size="30" font-weight="normal" fill="#000" >pCR by treatment arm</text>
<text transform="translate(1453.48,219.20) scale(0.8084,1)" font-size="30" font-weight="normal" fill="#000" >in ctDNA-cleared pts</text>
<g transform="translate(838.40,517.00) rotate(-90)"><text transform="translate(-0.83,0) scale(0.9538,1)" font-size="20.5" fill="#000">ctDNA clearance (%)</text></g>
<g transform="translate(1124.00,463.60) rotate(-90)"><text transform="translate(-1.27,0) scale(1.0088,1)" font-size="19.6" fill="#000">pCR (%)</text></g>
<g transform="translate(1412.20,463.60) rotate(-90)"><text transform="translate(-1.27,0) scale(1.0088,1)" font-size="19.6" fill="#000">pCR (%)</text></g>
</svg>
</body></html>
